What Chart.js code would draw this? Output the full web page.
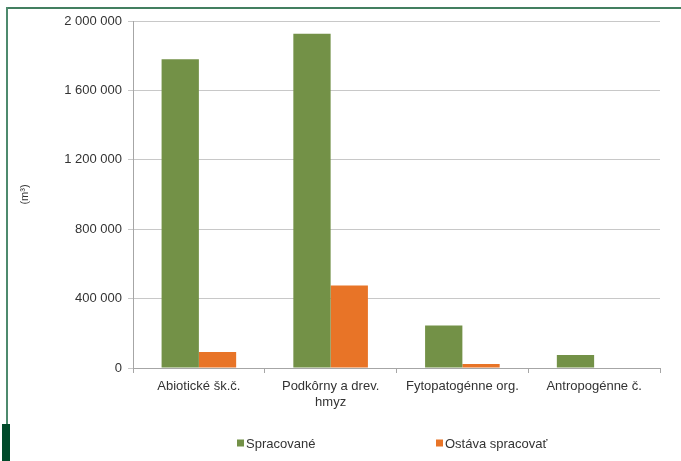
<!DOCTYPE html>
<html>
<head>
<meta charset="utf-8">
<script src="https://cdn.jsdelivr.net/npm/chart.js@4"></script>
<style>
  body { margin: 0; background: #fff; }
  #wrap { position: relative; width: 681px; height: 461px; overflow: hidden; }
  #chart { position: absolute; left: 0; top: 0; }
  .frame-top { position: absolute; left: 6px; top: 7px; width: 675px; height: 2px; background: #437f60; }
  .frame-left { position: absolute; left: 6px; top: 7px; width: 2px; height: 454px; background: #4e8a6d; }
  .frame-block { position: absolute; left: 2px; top: 424px; width: 8px; height: 37px; background: #004a2a; }
</style>
</head>
<body>
<div id="wrap">
  <canvas id="chart" width="681" height="461"></canvas>
  <div class="frame-top"></div>
  <div class="frame-left"></div>
  <div class="frame-block"></div>
</div>
<script>
// kategórie a hodnoty (m3)
const categories = ['Abiotické šk.č.', ['Podkôrny a drev.', 'hmyz'], 'Fytopatogénne org.', 'Antropogénne č.'];
const spracovane = [1780000, 1927000, 245000, 75000];
const ostava = [92000, 475000, 23000, 3000];
const seriesNames = ['Spracované', 'Ostáva spracovať'];
const yMax = 2000000;
const yStep = 400000;

const FONT = 'Liberation Sans, Arial, Helvetica, sans-serif';
const green = '#739147';
const orange = '#e87427';

const fmt = v => v.toString().replace(/\B(?=(\d{3})+(?!\d))/g, ' ');

// legenda dole (široko rozostavená ako v Exceli)
const bottomLegend = {
    id: 'bottomLegend',
    afterDraw(chart) {
        const c = chart.ctx;
        const xs = [237, 436];
        const y = 443;
        c.save();
        c.font = '13px ' + FONT;
        c.textBaseline = 'middle';
        chart.data.datasets.forEach((ds, i) => {
            c.fillStyle = ds.backgroundColor;
            c.fillRect(xs[i], y - 3.5, 7, 7);
            c.fillStyle = '#333';
            c.fillText(ds.label, xs[i] + 9, y + 1);
        });
        c.restore();
    }
};

new Chart(document.getElementById('chart'), {
    type: 'bar',
    data: {
        labels: categories,
        datasets: [
            { label: seriesNames[0], data: spracovane, backgroundColor: green },
            { label: seriesNames[1], data: ostava, backgroundColor: orange }
        ]
    },
    options: {
        responsive: false,
        animation: false,
        categoryPercentage: 0.566,
        barPercentage: 1.0,
        layout: { padding: { top: 21, right: 21, bottom: 0, left: 0 } },
        plugins: {
            legend: { display: false },
            tooltip: { enabled: false }
        },
        scales: {
            x: {
                afterFit: s => { s.height = 93; },
                border: { color: '#a6a6a6' },
                grid: { offset: true, drawOnChartArea: false, tickLength: 5, color: '#a6a6a6' },
                ticks: { color: '#333', font: { family: FONT, size: 13 }, padding: 6, maxRotation: 0 }
            },
            y: {
                min: 0,
                max: yMax,
                afterFit: s => { s.width = 133; },
                border: { color: '#a6a6a6' },
                grid: { color: '#c8c8c8', tickLength: 5 },
                ticks: { stepSize: yStep, color: '#333', font: { family: FONT, size: 13 }, padding: 6, callback: v => fmt(v) },
                title: { display: true, text: '(m³)', color: '#333', font: { family: FONT, size: 11 }, padding: { top: 18, bottom: 0 } }
            }
        }
    },
    plugins: [bottomLegend]
});
</script>
</body>
</html>
